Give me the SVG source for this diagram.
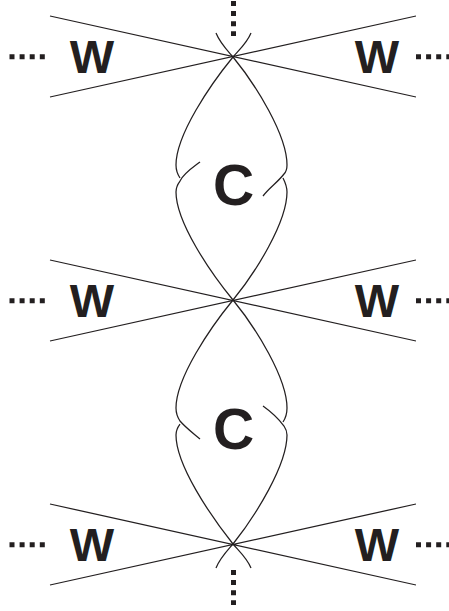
<svg xmlns="http://www.w3.org/2000/svg" width="449" height="611" viewBox="0 0 449 611">
<style>
.l{fill:none;stroke:#231f20;stroke-width:1.25}
.d{fill:none;stroke:#231f20;stroke-width:5;stroke-dasharray:5 5.1}
.t{font-family:"Liberation Sans",Arial,sans-serif;font-weight:bold;fill:#231f20;text-anchor:middle}
.w{font-size:47px}.c{font-size:57px}
</style>
<g id="connectors">
<path class="l" d="M50 16L416 97M50 97L416 16M50 260L416 341M50 341L416 260M50 504L416 585M50 585L416 504"/>
<path class="l" d="M216 33C220 43 227 50 233 57C239 50 247 43 251 33"/>
<path class="l" d="M216 568C220 558 227 551 233 544C239 551 247 558 251 568"/>
<path class="l" d="M233 57C210 85 176 135 176 165C176 171 178 175 180 178"/>
<path class="l" d="M200 162C192 168 184 173 180 181C177 185 176 188 176 192C176 222 210 272 233 300"/>
<path class="l" d="M233 57C256 85 287 135 287 165C287 170 286 172 284 174C277 183 270 187 263 196"/>
<path class="l" d="M233 300C256 272 287 222 287 192C287 187 285 182 283 178"/>
<path class="l" d="M233 300C210 328 176 378 176 408C176 414 178 418 180 421C186 428 193 433 200 439"/>
<path class="l" d="M180 424C177 428 176 431 176 435C176 465 210 515 233 544"/>
<path class="l" d="M233 300C256 328 287 378 287 408C287 413 285 419 283 422"/>
<path class="l" d="M263 406C270 411 278 418 284 426C286 429 287 432 287 435C287 465 256 515 233 544"/>
</g>
<g id="dots">
<path class="d" d="M233.500 1V36"/><path class="d" d="M233.500 570V605"/>
<path class="d" d="M9.500 56.700H46"/><path class="d" d="M416 56.700H449"/>
<path class="d" d="M9.500 300.700H46"/><path class="d" d="M416 300.700H449"/>
<path class="d" d="M9.500 544.700H46"/><path class="d" d="M416 544.700H449"/>
</g>
<g id="w1"><text class="t w" x="92" y="73">W</text></g>
<g id="w2"><text class="t w" x="377" y="73">W</text></g>
<g id="c1"><text class="t c" x="233.500" y="205">C</text></g>
<g id="w3"><text class="t w" x="92" y="317">W</text></g>
<g id="w4"><text class="t w" x="377" y="317">W</text></g>
<g id="c2"><text class="t c" x="233.500" y="449">C</text></g>
<g id="w5"><text class="t w" x="92" y="560.500">W</text></g>
<g id="w6"><text class="t w" x="377" y="560.500">W</text></g>
</svg>
